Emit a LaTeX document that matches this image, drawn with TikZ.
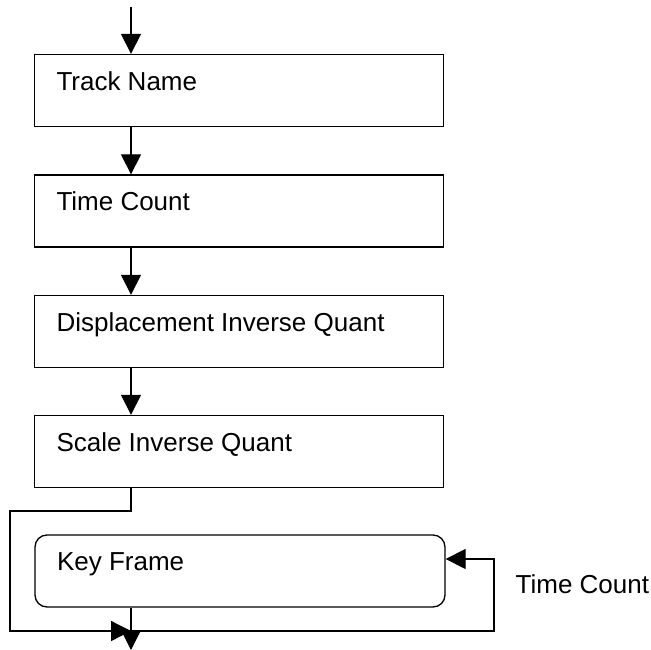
\documentclass[tikz,border=0pt]{standalone}
\usepackage{fontspec}
\setmainfont{Liberation Sans}
\usetikzlibrary{arrows.meta,positioning}

\begin{document}
\begin{tikzpicture}[
  x=1pt, y=-1pt, line width=1.3pt,
  font=\fontsize{26}{30}\selectfont,
  stage/.style={draw, minimum width=409pt, minimum height=72pt, inner sep=0pt},
  txt/.style={anchor=base west, xshift=22pt, yshift=-36.5pt, inner sep=0pt},
  arr/.style={-{Triangle[length=20pt, width=20pt]}},
]
\useasboundingbox (0,0) rectangle (651,650);

% Stages, top to bottom
\node[stage, label={[txt]north west:Track Name}]
      (track) at (239,90.5) {};
\node[stage, label={[txt]north west:Time Count}]
      (time) at (239,211) {};
\node[stage, label={[txt]north west:Displacement Inverse Quant}]
      (disp) at (239,331.5) {};
\node[stage, label={[txt]north west:Scale Inverse Quant}]
      (scale) at (239,451.5) {};
\node[stage, rounded corners=12pt, minimum width=410pt, label={[txt]north west:Key Frame}]
      (key) at (240,571) {};

% Free ends and bends
\coordinate (in)  at (131,7);
\coordinate (lft) at (10,511);
\coordinate (jn)  at (131,631);
\coordinate (rgt) at (494,559);
\coordinate (out) at (131,650);

% Downward flow
\draw[arr] (in) -- (in |- track.north);
\draw[arr] (track.south -| in) -- (time.north -| in);
\draw[arr] (time.south -| in) -- (disp.north -| in);
\draw[arr] (disp.south -| in) -- (scale.north -| in);
\draw[arr] (scale.south -| in) |- (lft) |- (jn);
\draw[arr] (key.south -| in) -- (out);

% Loop back into the key frame
\draw[arr] (jn) -| (rgt) -- ([yshift=12pt]key.east);
\node[anchor=base west, inner sep=0pt] (loop) at (515,593) {Time Count};

\end{tikzpicture}
\end{document}
